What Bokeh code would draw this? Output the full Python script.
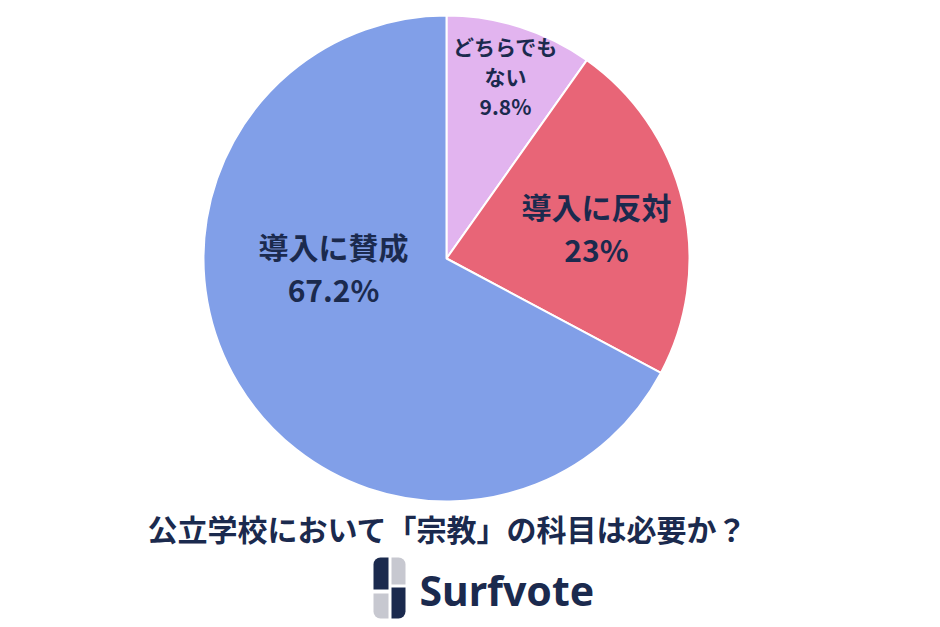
import math
from bokeh.plotting import figure
from bokeh.models import Range1d, ColumnDataSource
from bokeh.core.properties import value
from bokeh.embed import file_html
from bokeh.resources import INLINE

# ---- data ----
categories = ["どちらでもない", "導入に反対", "導入に賛成"]
label_lines = [["どちらでも", "ない", "9.8%"], ["導入に反対", "23%"], ["導入に賛成", "67.2%"]]
shares = [9.8, 23.0, 67.2]
colors = ["#E2B4EF", "#E86577", "#819FE8"]
title_text = "公立学校において「宗教」の科目は必要か？"
brand = "Surfvote"

# ---- layout ----
W, H = 924, 619
NAVY = "#1B2A4E"
FONT = value("Noto Sans CJK JP")

def Y(ys):  # screen y -> data y (up)
    return H - ys

def X(xs):
    return xs

cx, cy, R = X(446), Y(258), 243

p = figure(width=W, height=H, x_range=Range1d(0, W), y_range=Range1d(0, H),
           output_backend="svg", toolbar_location=None, min_border=0)
p.axis.visible = False
p.grid.visible = False
p.outline_line_color = None
p.background_fill_color = "white"

# wedges, clockwise from 12 o'clock
starts, ends = [], []
a = 90.0
for s in shares:
    b = a - s / 100 * 360
    starts.append(math.radians(a))
    ends.append(math.radians(b))
    a = b
src = ColumnDataSource(dict(start=starts, end=ends, color=colors, cat=categories))
p.wedge(x=cx, y=cy, radius=R, radius_units="screen", start_angle="start", end_angle="end",
        direction="clock", fill_color="color", line_color="white", line_width=2, source=src)

# labels: centre offsets from pie centre (dx, dy screen px), font size, line step
label_pos = [(59, -183, 21, 30), (150, -31, 30, 43), (-113, 9, 30, 43)]
for lines, (dx, dy, fs, lh) in zip(label_lines, label_pos):
    lx = cx + dx
    ly = cy - dy
    n = len(lines)
    for i, t in enumerate(lines):
        yy = ly + ((n - 1) / 2 - i) * lh
        p.text(x=[lx], y=[yy], text=[t], text_font=FONT, text_font_style="bold",
               text_font_size=f"{fs}px", text_color=NAVY, text_align="center",
               text_baseline="middle")

# title
p.text(x=[X(447)], y=[Y(527)], text=[title_text], text_font=FONT, text_font_style="bold",
       text_font_size="30px", text_color=NAVY, text_align="center", text_baseline="middle")

# logo icon (four quadrants)
GRAY = "#C7C8D0"
p.quad(left=[X(373)], right=[X(388)], top=[Y(557)], bottom=[Y(589)], fill_color=NAVY,
       line_color=None, border_radius=(7, 0, 0, 0))
p.quad(left=[X(373)], right=[X(388)], top=[Y(593)], bottom=[Y(618)], fill_color=GRAY,
       line_color=None, border_radius=(0, 0, 0, 7))
p.quad(left=[X(391)], right=[X(405)], top=[Y(557)], bottom=[Y(584)], fill_color=GRAY,
       line_color=None, border_radius=(0, 7, 0, 0))
p.quad(left=[X(391)], right=[X(405)], top=[Y(587)], bottom=[Y(618)], fill_color=NAVY,
       line_color=None, border_radius=(0, 0, 7, 0))

p.text(x=[X(419)], y=[Y(589)], text=[brand], text_font=value("Noto Sans"), text_font_style="bold",
       text_font_size="41px", text_color=NAVY, text_align="left", text_baseline="middle")

open("out.html", "w").write(file_html(p, INLINE))
